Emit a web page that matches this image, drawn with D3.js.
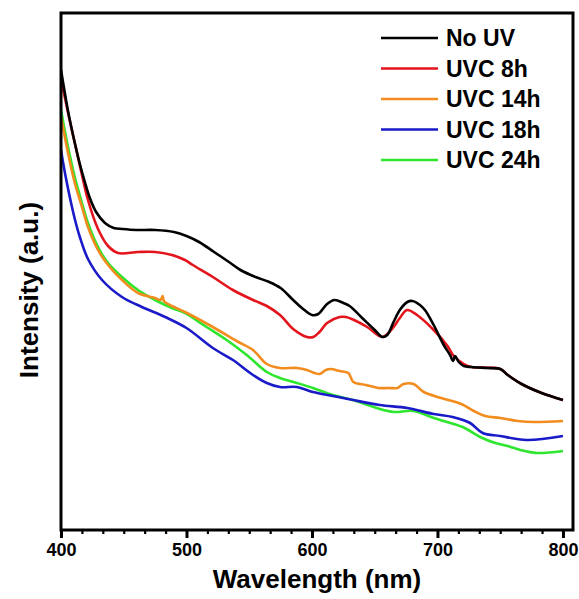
<!DOCTYPE html>
<html>
<head>
<meta charset="utf-8">
<script src="https://cdn.jsdelivr.net/npm/d3@7"></script>
<style>
  body { margin: 0; background: #fff; }
  text { font-family: "Liberation Sans", Arial, sans-serif; font-weight: bold; }
</style>
</head>
<body>
<div id="grafico"></div>
<script>
// espectros (nm, intensidad a.u.)
const noUV = [[400,460],[402,445],[405,423],[408,404],[411,387],[415,366],[419,348],[423,332],[428,318],[435,307],[442,302],[449,301],[460,300],[475,300],[490,298],[500,294],[510,288],[522,278],[535,267],[543,260],[555,253],[566,248],[575,242],[585,230],[592,222],[600,215],[605,216],[612,226],[618,230],[625,227],[630,224],[640,212],[650,200],[656,193],[660,195],[665,208],[670,220],[676,228],[680,229],[686,225],[690,220],[697,205],[705,185],[710,175],[712.5,169],[714,174],[717,168],[721,164],[727,163],[740,162],[750,161],[756,155],[767,146],[783,137],[800,130]];
const uvc8 = [[400,450],[403,433],[406,415],[411,387],[416.7,355],[421.5,330],[429.5,301],[437.5,284],[445.4,277],[461.4,278],[475,278],[488.4,275],[498.8,270],[505,265],[521,253],[537,240],[553,230],[564,224],[574.5,215],[585,201],[596,193],[601,193],[606,198],[612,207],[622,213],[627,213],[633.5,210],[644,203],[656,193],[663.7,201],[670,212],[675.7,220],[683.7,215],[697,200],[708,184],[713,174],[721,166],[727,163],[750,161],[756,155],[767,146],[783,137],[800,130]];
const uvc14 = [[400,413],[405.6,377],[411,347],[416.7,323],[421.5,303],[429.5,280],[437.5,265],[448.6,250],[461.4,237],[475,232],[479.3,230],[481,234],[482,229],[488.4,224],[498.8,218],[521,203],[540,189],[553,180],[564,166],[574.5,162],[588,162],[596,160],[602,157],[606,156],[611,160],[615,161],[622,159],[629,157],[633,148],[643,145],[653,142],[661,142],[668,142],[673,146],[681,146],[689,138],[703,132],[719,126],[729,119],[738,114],[750,112],[764,109],[777,108],[800,109]];
const uvc18 = [[400,380],[403,358],[407,333],[411,311],[415,293],[421.5,271],[432.7,250],[448.6,233],[464.5,223],[483,213],[500,202],[521,182],[537,170],[553,155],[564,147],[574.5,143],[588,143],[600.8,138],[616.7,134],[632.7,130],[654,125],[676,122],[697,116],[712,113],[726,107],[736,97],[750,94],[771,90],[800,94]];
const uvc24 = [[400,420],[405.6,383],[411,353],[416.7,327],[421.5,307],[429.5,283],[437.5,267],[448.6,253],[461.4,240],[475,230],[488.4,222],[498.8,217],[516,203],[532,190],[548,175],[564,158],[574.5,152],[588,147],[600.8,142],[616.7,135],[632.7,130],[654,121],[665,118],[681,119],[697,112],[720,103],[734,93],[746,87],[756,84],[766,80],[779,77],[800,79]];

const nombres = ["No UV", "UVC 8h", "UVC 14h", "UVC 18h", "UVC 24h"];
const colores = ["#000000", "#e3141c", "#f28c1e", "#1a1ac8", "#2ee62e"];
const series = [noUV, uvc8, uvc14, uvc18, uvc24];
const ticksX = [400, 500, 600, 700, 800];

const width = 579;
const height = 599;
const margen = {top: 13, right: 6, bottom: 69, left: 61};

const svg = d3.select("#grafico")
  .append("svg")
  .attr("width", width)
  .attr("height", height);

const x = d3.scaleLinear()
  .domain([400, 808])
  .range([margen.left, width - margen.right]);

const y = d3.scaleLinear()
  .domain([0, 517])
  .range([height - margen.bottom, margen.top]);

// clip para las curvas
svg.append("clipPath").attr("id", "recorte")
  .append("rect")
  .attr("x", margen.left).attr("y", margen.top)
  .attr("width", width - margen.left - margen.right)
  .attr("height", height - margen.top - margen.bottom);

const linea = d3.line()
  .x(d => x(d[0]))
  .y(d => y(d[1]))
  .curve(d3.curveCatmullRom.alpha(0.5));

// orden de dibujo: la negra encima
const orden = [4, 3, 2, 1, 0];
svg.append("g").attr("clip-path", "url(#recorte)")
  .selectAll("path")
  .data(orden)
  .join("path")
  .attr("d", i => linea(series[i]))
  .attr("fill", "none")
  .attr("stroke", i => colores[i])
  .attr("stroke-width", 2.6)
  .attr("stroke-linejoin", "round");

// ejes: ticks menores cada 100/6 nm
const menores = d3.range(0, 25).map(k => 400 + k * 100 / 6).filter(v => v <= 808 && !ticksX.some(t => Math.abs(t - v) < 1e-6));

const ejeMenor = svg.append("g")
  .attr("transform", `translate(0,${height - margen.bottom})`)
  .call(d3.axisBottom(x).tickValues(menores).tickSize(4).tickFormat(""));
ejeMenor.select(".domain").remove();
ejeMenor.selectAll("line").attr("stroke-width", 2.2);

const ejeX = svg.append("g")
  .attr("transform", `translate(0,${height - margen.bottom})`)
  .call(d3.axisBottom(x).tickValues(ticksX).tickSize(8).tickPadding(5));
ejeX.select(".domain").remove();
ejeX.selectAll("line").attr("stroke-width", 3);
ejeX.selectAll("text")
  .attr("font-size", "18px")
  .attr("font-family", "'Liberation Sans', Arial, sans-serif")
  .attr("font-weight", "bold")
  .attr("fill", "#000");

// marco
svg.append("rect")
  .attr("x", margen.left).attr("y", margen.top)
  .attr("width", width - margen.left - margen.right)
  .attr("height", height - margen.top - margen.bottom)
  .attr("fill", "none")
  .attr("stroke", "#000")
  .attr("stroke-width", 3);

// titulos de ejes
svg.append("text")
  .attr("x", 317).attr("y", 588)
  .attr("text-anchor", "middle")
  .attr("font-size", "26px")
  .text("Wavelength (nm)");

svg.append("text")
  .attr("transform", "translate(38,290) rotate(-90)")
  .attr("text-anchor", "middle")
  .attr("font-size", "26px")
  .text("Intensity (a.u.)");

// leyenda
const leyenda = svg.append("g").attr("transform", "translate(381,38)");
nombres.forEach((n, i) => {
  leyenda.append("line")
    .attr("x1", 0).attr("x2", 57)
    .attr("y1", i * 30.5).attr("y2", i * 30.5)
    .attr("stroke", colores[i]).attr("stroke-width", 2.6);
  leyenda.append("text")
    .attr("x", 65).attr("y", i * 30.5 + 8)
    .attr("font-size", "23px")
    .text(n);
});
</script>
</body>
</html>
